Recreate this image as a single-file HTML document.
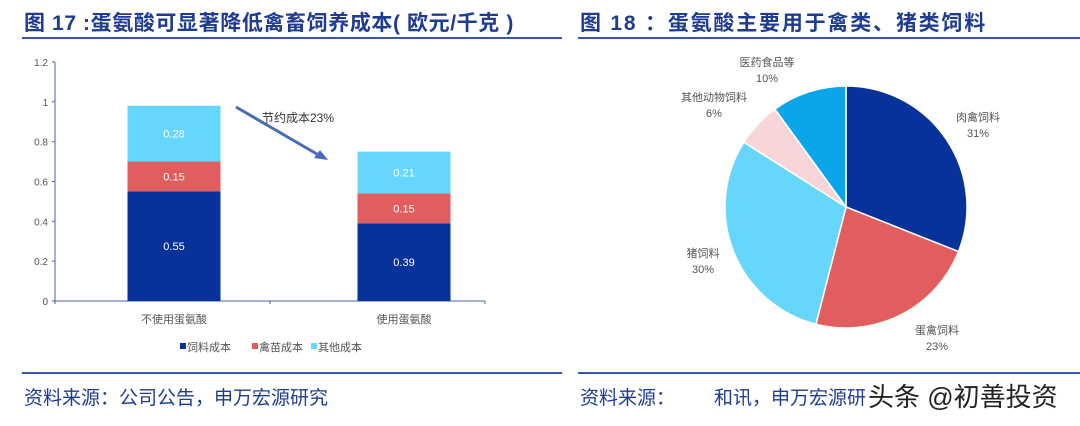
<!DOCTYPE html>
<html><head><meta charset="utf-8"><style>
body{margin:0;width:1080px;height:426px;background:#fff;overflow:hidden;font-family:"Liberation Sans","Noto Sans CJK SC",sans-serif;}
svg{position:absolute;left:0;top:0}
</style></head><body>
<svg width="1080" height="426">
<text x="24" y="30" font-size="21" font-weight="bold" fill="#1f3c92" letter-spacing="0.6">图 17 :蛋氨酸可显著降低禽畜饲养成本( 欧元/千克 )</text>
<rect x="22" y="37" width="540" height="2" fill="#3a56a8"/>
<text x="580" y="30" font-size="21" font-weight="bold" fill="#1f3c92" letter-spacing="1.8">图 18 ：蛋氨酸主要用于禽类、猪类饲料</text>
<rect x="578" y="37" width="502" height="2" fill="#3a56a8"/>
<g id="bar"></g>
<g id="pie"></g>
<rect x="22" y="372" width="540" height="2" fill="#3a56a8"/>
<rect x="578" y="372" width="502" height="2" fill="#3a56a8"/>
<text x="24" y="404" font-size="19" fill="#1f3c92">资料来源：公司公告，申万宏源研究</text>
<text x="580" y="404" font-size="19" fill="#1f3c92">资料来源：</text>
<text x="714" y="404" font-size="19" fill="#1f3c92">和讯，申万宏源研</text>
<text x="868" y="406" font-size="26" fill="#222">头条 @初善投资</text>
</svg>
<script>
const NS="http://www.w3.org/2000/svg";
function mk(p,t,a,txt){const e=document.createElementNS(NS,t);for(const k in a)e.setAttribute(k,a[k]);if(txt!=null)e.textContent=txt;p.appendChild(e);return e;}
const categories=["不使用蛋氨酸","使用蛋氨酸"];
const seriesNames=["饲料成本","禽苗成本","其他成本"];
const feedCost=[0.55,0.39];
const chickCost=[0.15,0.15];
const otherCost=[0.28,0.21];
const yTicks=[0,0.2,0.4,0.6,0.8,1,1.2];
const colors=["#06329a","#e25e5e","#66d6fc"];
const bar=document.getElementById('bar');
const y0=301,yPer=199.2,x0=55;
const ys=v=>y0-v*yPer;
const xs=i=>174+i*230;
let e=mk(bar,'line',{x1:x0,y1:ys(1.2),x2:x0,y2:y0,stroke:'#4a5fa8','stroke-width':1});

e=mk(bar,'line',{x1:x0,y1:y0,x2:485,y2:y0,stroke:'#4a5fa8','stroke-width':1});

[x0,270,485].forEach(x=>mk(bar,'line',{x1:x,y1:y0,x2:x,y2:y0+3,stroke:'#4a5fa8'}));
yTicks.forEach(t=>{
 mk(bar,'line',{x1:x0-3,y1:ys(t),x2:x0,y2:ys(t),stroke:'#4a5fa8'});
 e=mk(bar,'text',{x:x0-7,y:ys(t)+4,'font-size':10,fill:'#555','text-anchor':'end'},String(t));
 
});
const series=[feedCost,chickCost,otherCost];
categories.forEach((c,i)=>{
 let base=0;
 series.forEach((s,j)=>{
  const v=s[i];
  e=mk(bar,'rect',{x:xs(i)-46.5,y:ys(base+v),width:93,height:v*yPer,fill:colors[j]});
  
  e=mk(bar,'text',{x:xs(i),y:ys(base+v/2)+4,'font-size':11,fill:'#fff','text-anchor':'middle'},v.toFixed(2));
  
  base+=v;
 });
 e=mk(bar,'text',{x:xs(i),y:323,'font-size':11,fill:'#555','text-anchor':'middle'},c);
 
});
e=mk(bar,'line',{x1:236,y1:107,x2:322,y2:157,stroke:'#4a6cb8','stroke-width':3});

mk(bar,'polygon',{points:'328,160 314,158 320,150',fill:'#4a6cb8'});
e=mk(bar,'text',{x:262,y:122,'font-size':12,fill:'#333'},'节约成本23%');

const lx=[190,262,321];
seriesNames.forEach((n,j)=>{
 mk(bar,'rect',{x:lx[j]-10,y:343,width:6,height:6,fill:colors[j]});
 e=mk(bar,'text',{x:lx[j]-3,y:351,'font-size':11,fill:'#555'},n);
 
});
const pieLabels=["肉禽饲料","蛋禽饲料","猪饲料","其他动物饲料","医药食品等"];
const pieValues=[31,23,30,6,10];
const pieColors=["#06329a","#e25e5e","#66d6fc","#f8d6d8","#0aa6e8"];
const labelPos=[[978,121],[937,334],[703,257],[714,101],[767,66]];
const pie=document.getElementById('pie');
const cx=846,cy=207,r=121;
const total=pieValues.reduce((a,b)=>a+b,0);
let ang=0;
pieValues.forEach((v,i)=>{
 const a0=ang/total*2*Math.PI,a1=(ang+v)/total*2*Math.PI;ang+=v;
 const p=a=>[cx+r*Math.sin(a),cy-r*Math.cos(a)];
 const [x1,y1]=p(a0),[x2,y2]=p(a1);
 e=mk(pie,'path',{d:`M${cx},${cy}L${x1},${y1}A${r},${r} 0 ${a1-a0>Math.PI?1:0} 1 ${x2},${y2}Z`,fill:pieColors[i],stroke:'#fff','stroke-width':1.5});
 
 const [tx,ty]=labelPos[i];
 e=mk(pie,'text',{x:tx,y:ty,'font-size':11,fill:'#555','text-anchor':'middle'},pieLabels[i]);
 
 e=mk(pie,'text',{x:tx,y:ty+16,'font-size':11,fill:'#555','text-anchor':'middle'},v+'%');
 
});
</script>
</body></html>
